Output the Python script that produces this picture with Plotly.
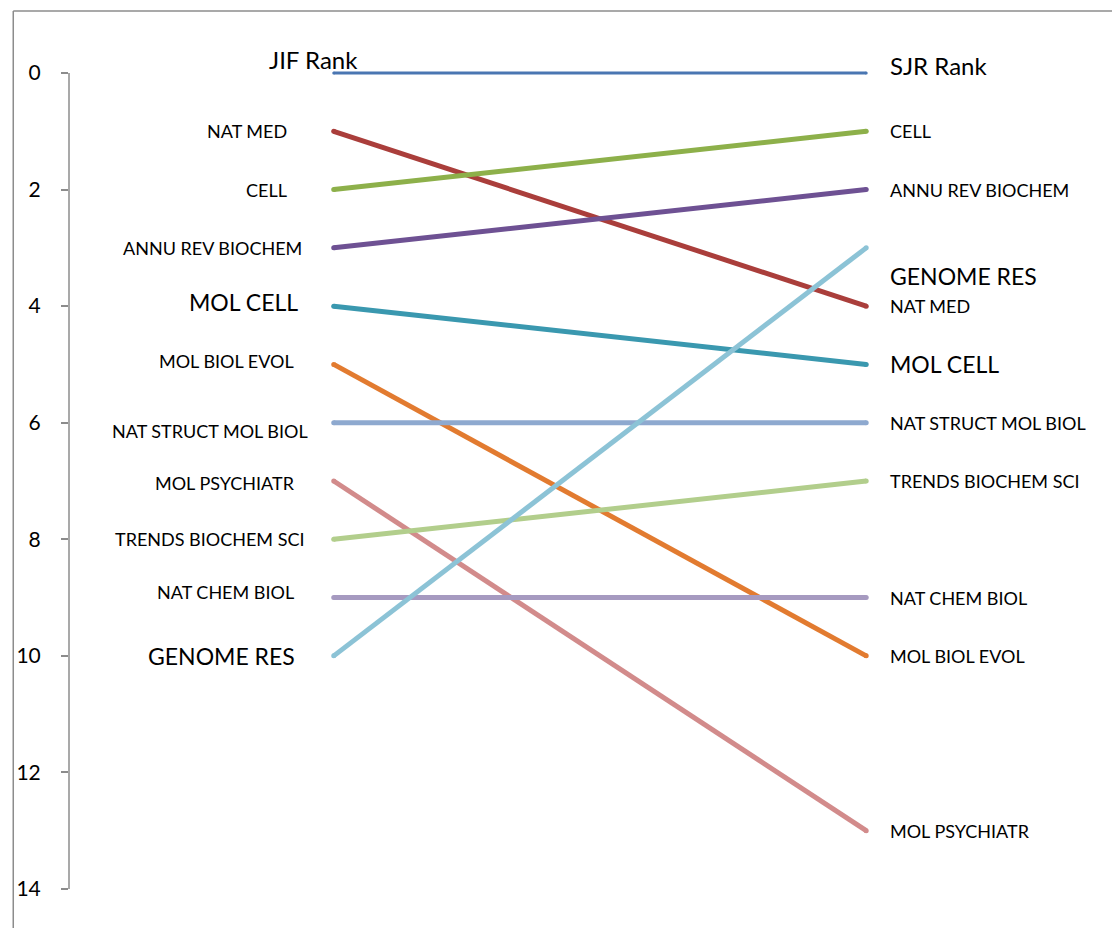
import plotly.graph_objects as go

# ---- data ----
journals = ["NAT MED", "CELL", "ANNU REV BIOCHEM", "MOL CELL", "MOL BIOL EVOL",
            "NAT STRUCT MOL BIOL", "MOL PSYCHIATR", "TRENDS BIOCHEM SCI",
            "NAT CHEM BIOL", "GENOME RES"]
jif_rank = [1, 2, 3, 4, 5, 6, 7, 8, 9, 10]
sjr_rank = [4, 1, 2, 5, 10, 6, 13, 7, 9, 3]
header_left = "JIF Rank"
header_right = "SJR Rank"
header_rank = 0
y_ticks = [0, 2, 4, 6, 8, 10, 12, 14]

# ---- styles ----
colors = ["#AA3E3B", "#8DB04A", "#6E5193", "#3A98AF", "#E27B30",
          "#8EA9CF", "#D28B8B", "#B2CE8C", "#A69AC0", "#8CC3D6"]
header_color = "#4A76B2"
FONT = "Lato"
small = 18
large = 23
header_size = 24
big_left = {"MOL CELL", "GENOME RES"}
big_right = {"MOL CELL", "GENOME RES"}
# label offsets in pixels (x: right edge relative to line start; y: shift)
left_dx = [-45, -45, -30, -34, -38, -24, -37, -27, -38, -37]
left_dy = [0, 0, 0, 4, 3, -8, -2, 0, 6, 0]
right_dy = [0, 0, 0, 0, 0, 0, 0, 0, 0, -28]

fig = go.Figure()
fig.add_trace(go.Scatter(x=[0, 1], y=[header_rank, header_rank], mode="lines+markers",
                         line=dict(color=header_color, width=3),
                         marker=dict(color=header_color, size=3), hoverinfo="skip"))
for j, a, b, c in zip(journals, jif_rank, sjr_rank, colors):
    fig.add_trace(go.Scatter(x=[0, 1], y=[a, b], mode="lines+markers",
                             line=dict(color=c, width=5),
                             marker=dict(color=c, size=5), name=j))

ann = []
for i, (j, a, b) in enumerate(zip(journals, jif_rank, sjr_rank)):
    ann.append(dict(x=0, y=a, xref="x", yref="y", text=j, showarrow=False,
                    xanchor="right", yanchor="middle", xshift=left_dx[i], yshift=left_dy[i],
                    font=dict(family=FONT, size=large if j in big_left else small, color="#000")))
    ann.append(dict(x=1, y=b, xref="x", yref="y", text=j, showarrow=False,
                    xanchor="left", yanchor="middle", xshift=22, yshift=right_dy[i],
                    font=dict(family=FONT, size=large if j in big_right else small, color="#000")))
ann.append(dict(x=0, y=header_rank, xref="x", yref="y", text=header_left, showarrow=False,
                xanchor="right", yanchor="middle", xshift=26, yshift=14,
                font=dict(family=FONT, size=header_size, color="#000")))
ann.append(dict(x=1, y=header_rank, xref="x", yref="y", text=header_right, showarrow=False,
                xanchor="left", yanchor="middle", xshift=22, yshift=8,
                font=dict(family=FONT, size=header_size, color="#000")))

# page is offset by 8px (body margin); figure coords = page coords - 8
OFF = 8
L, T = 64 - OFF, 56 - OFF
R_EDGE = 1120 - OFF
B_EDGE = 906 - OFF
W, H = 1120, 928
plot_w = R_EDGE - L
plot_h = B_EDGE - T
px_per_x = 535.0
x0_px = 330 - OFF
x_lo = (L - x0_px) / px_per_x
x_hi = (R_EDGE - x0_px) / px_per_x
unit = 816 / 14.0
y_top = -((73 - OFF) - T) / unit
y_bot = 14 + (B_EDGE - (889 - OFF)) / unit

bx = ((8 - OFF) - L) / plot_w
by = (B_EDGE - (11 - OFF)) / plot_h
shapes = [
    dict(type="line", xref="paper", yref="y", x0=0, x1=0, y0=0, y1=14,
         line=dict(color="#8C8C8C", width=1.5)),
    dict(type="line", xref="paper", yref="paper", x0=bx, x1=bx,
         y0=by, y1=-0.2, line=dict(color="#8C8C8C", width=1.5)),
    dict(type="line", xref="paper", yref="paper", x0=bx, x1=1.1,
         y0=by, y1=by, line=dict(color="#8C8C8C", width=1.5)),
]

fig.update_layout(
    width=W, height=H,
    margin=dict(l=L, r=W - R_EDGE, t=T, b=H - B_EDGE),
    paper_bgcolor="white", plot_bgcolor="white",
    showlegend=False,
    annotations=ann, shapes=shapes,
    xaxis=dict(range=[x_lo, x_hi], visible=False, fixedrange=True),
    yaxis=dict(range=[y_bot, y_top], tickvals=y_ticks, ticktext=[str(t) for t in y_ticks],
               showgrid=False, zeroline=False, showline=False,
               ticks="outside", ticklen=7, tickcolor="#8C8C8C", tickwidth=1.5,
               ticklabelstandoff=16,
               tickfont=dict(family=FONT, size=21, color="#000"), fixedrange=True),
)
fig.write_html("out.html")
